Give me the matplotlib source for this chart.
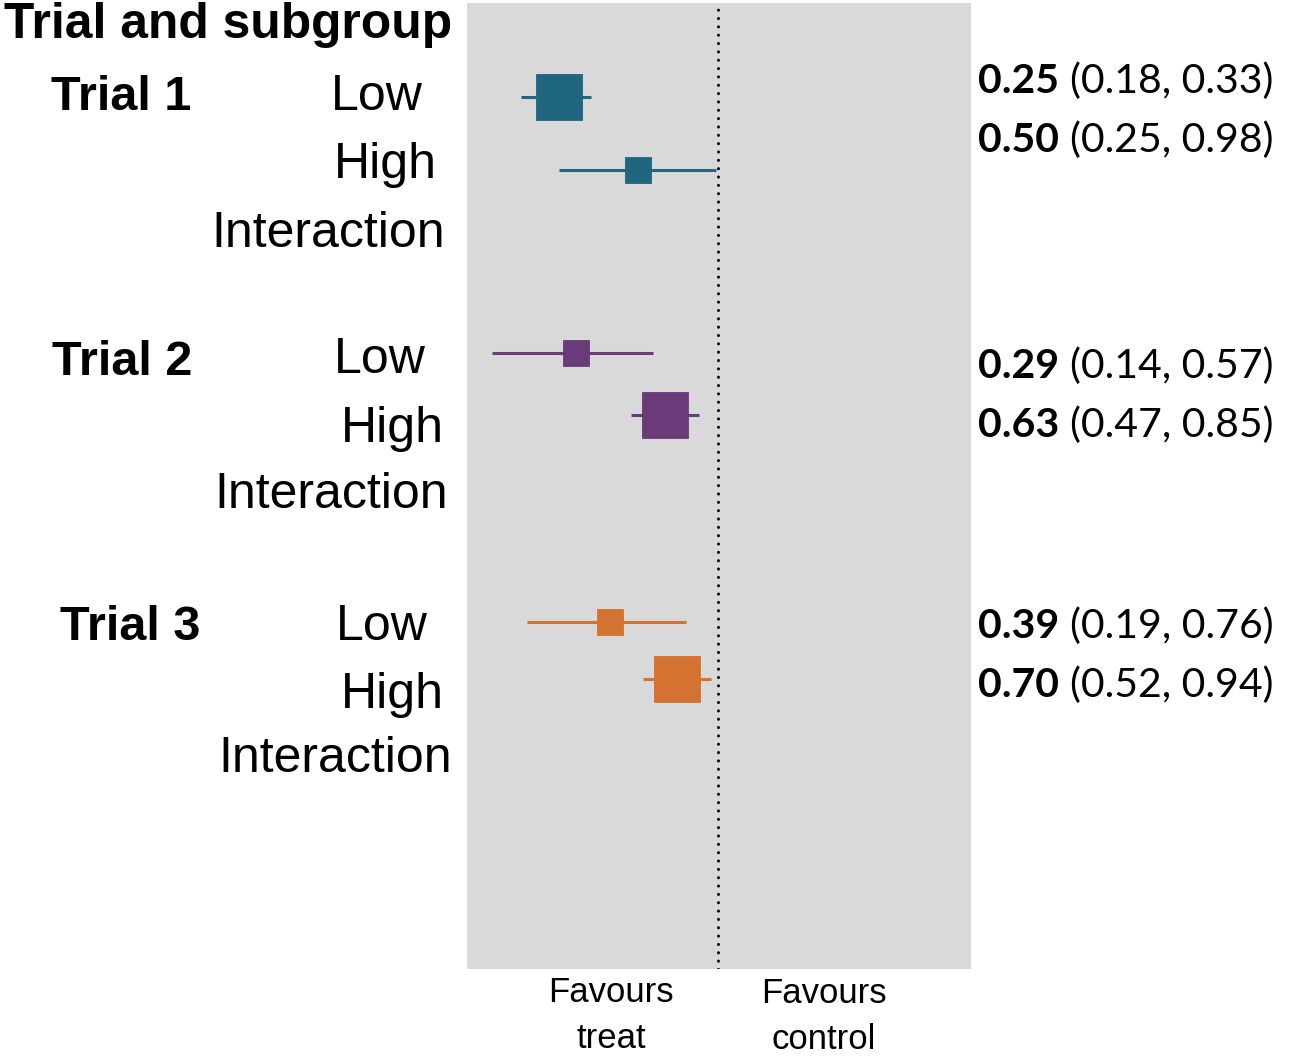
import numpy as np
import matplotlib
matplotlib.use("Agg")
import matplotlib.pyplot as plt

# ---- data -------------------------------------------------------------
trials = ["Trial 1", "Trial 2", "Trial 3"]
subgroups = ["Low", "High"]
estimate = [[0.25, 0.50], [0.29, 0.63], [0.39, 0.70]]
lower = [[0.18, 0.25], [0.14, 0.47], [0.19, 0.52]]
upper = [[0.33, 0.98], [0.57, 0.85], [0.76, 0.94]]
trial_colors = ["#20667f", "#6b3a78", "#d47232"]

# ---- layout (pixel positions on a 1299 x 1058 canvas) ------------------
W, H = 1299, 1058
panel = (467, 3, 971, 969)          # left, top, right, bottom
null_px = 718                        # where the no-effect line sits
px_per_log = 115                     # pixels per unit of ln(ratio)
box_y = [[97, 170], [353, 415], [622, 679]]
trial_x = [121, 122, 130]
trial_base = [110, 375, 640]
label_right = {"Low": [423, 426, 428], "High": [437, 444, 444],
               "Interaction": [445, 448, 452]}
label_base = {"Low": [110, 373, 640], "High": [178, 442, 708],
              "Interaction": [247, 508, 772]}
value_base = [[93, 152], [378, 437], [638, 697]]
value_left = 978

SANS = ["Liberation Sans", "DejaVu Sans"]
VALFONT = ["Lato", "DejaVu Sans"]

fig = plt.figure(figsize=(W / 100, H / 100), dpi=100)


def fx(x):
    return x / W


def fy(y):
    return 1 - y / H


pl, pt, pr, pb = panel
ax = fig.add_axes([fx(pl), fy(pb), (pr - pl) / W, (pb - pt) / H])
ax.set_facecolor("#d9d9d9")
ax.set_xscale("log")
ax.set_xlim(np.exp(-(null_px - pl) / px_per_log),
            np.exp((pr - null_px) / px_per_log))
ax.set_ylim(pb, pt)
for s in ax.spines.values():
    s.set_visible(False)
ax.set_xticks([])
ax.set_yticks([])
ax.minorticks_off()

# no-effect reference line
ax.axvline(1.0, color="black", lw=2.2, linestyle=(0, (0.01, 2.72)),
           dash_capstyle="round")


def box_side_px(lo, hi):
    # box side grows with the cube root of the inverse-variance weight
    se = (np.log(hi) - np.log(lo)) / 3.92
    w = 1 / se ** 2
    return 13 * w ** (1 / 3)


for g, trial in enumerate(trials):
    col = trial_colors[g]
    for k, sub in enumerate(subgroups):
        est, lo, hi = estimate[g][k], lower[g][k], upper[g][k]
        y = box_y[g][k]
        ax.plot([lo, hi], [y, y], color=col, lw=2.2, solid_capstyle="butt",
                zorder=2)
        side = box_side_px(lo, hi) * 0.72
        ax.plot([est], [y], marker="s", ms=side, color=col,
                markeredgecolor=col, markeredgewidth=0.6, zorder=3)

# ---- left-hand labels ---------------------------------------------------
fig.text(fx(4), fy(38), "Trial and subgroup", family=SANS, weight="bold",
         fontsize=35.8, ha="left", va="baseline")
for g, trial in enumerate(trials):
    fig.text(fx(trial_x[g]), fy(trial_base[g]), trial, family=SANS,
             weight="bold", fontsize=35, ha="center", va="baseline")
    for name in ["Low", "High", "Interaction"]:
        fig.text(fx(label_right[name][g]), fy(label_base[name][g]), name,
                 family=SANS, fontsize=36, ha="right", va="baseline")

# ---- right-hand estimates ----------------------------------------------
fig.canvas.draw()
renderer = fig.canvas.get_renderer()
for g in range(len(trials)):
    for k in range(len(subgroups)):
        yb = value_base[g][k]
        t = fig.text(fx(value_left), fy(yb), f"{estimate[g][k]:.2f}",
                     family=VALFONT, weight="bold", fontsize=29.5,
                     ha="left", va="baseline")
        bb = t.get_window_extent(renderer)
        fig.text(fx(bb.x1 + 11), fy(yb),
                 f"({lower[g][k]:.2f}, {upper[g][k]:.2f})",
                 family=VALFONT, fontsize=29.5, ha="left", va="baseline")

# ---- direction captions -------------------------------------------------
fig.text(fx(611), fy(1048), "Favours\ntreat", family=SANS, fontsize=25,
         ha="center", va="baseline", linespacing=1.5)
fig.text(fx(824), fy(1049), "Favours\ncontrol", family=SANS, fontsize=25,
         ha="center", va="baseline", linespacing=1.5)

fig.savefig("out.png", dpi=100)
